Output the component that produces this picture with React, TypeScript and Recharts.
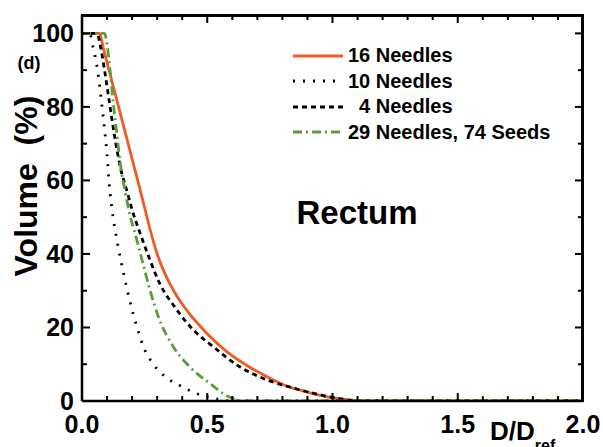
import { LineChart, Line, XAxis, YAxis, Legend } from "recharts";

// D/Dref positions on the x axis, volume (%) on the y axis
const needles16X = [0, 0.07, 0.085, 0.15, 0.23, 0.3, 0.33, 0.37, 0.42, 0.5, 0.58, 0.66, 0.75, 0.82, 0.9, 0.98, 1.06, 1.15, 1.5, 2.0];
const needles16Y = [100, 100, 96, 79, 58, 40, 34.8, 29.5, 24.5, 18.3, 13.3, 9.6, 6.2, 4, 2.4, 1.1, 0.4, 0, 0, 0];

const needles10X = [0, 0.03, 0.045, 0.06, 0.07, 0.08, 0.09, 0.1, 0.11, 0.12, 0.14, 0.165, 0.19, 0.22, 0.25, 0.285, 0.34, 0.4, 0.45, 0.52, 0.6, 2.0];
const needles10Y = [100, 100, 96, 91, 86, 80, 74, 67, 58, 52, 43.5, 35, 27.5, 20, 14, 10, 6.2, 3.9, 2.2, 0.8, 0, 0];

const needles4X = [0, 0.06, 0.075, 0.09, 0.11, 0.13, 0.155, 0.18, 0.2, 0.232, 0.265, 0.31, 0.37, 0.445, 0.525, 0.63, 0.74, 0.845, 1.0, 1.1, 2.0];
const needles4Y = [100, 100, 96, 90, 81, 72, 63, 57, 52, 45.6, 39.5, 32, 25.6, 19.3, 14.7, 9.3, 5.7, 3.5, 1, 0, 0];

const seedsX = [0, 0.09, 0.1, 0.112, 0.125, 0.14, 0.152, 0.172, 0.19, 0.22, 0.245, 0.27, 0.31, 0.365, 0.43, 0.51, 0.59, 0.65, 2.0];
const seedsY = [100, 100, 97, 90, 81, 72, 65, 57, 51, 43.5, 37, 30.5, 22, 14.7, 9.3, 4.8, 1, 0, 0];

const xTicks = [0, 0.1, 0.2, 0.3, 0.4, 0.5, 0.6, 0.7, 0.8, 0.9, 1.0, 1.1, 1.2, 1.3, 1.4, 1.5, 1.6, 1.7, 1.8, 1.9, 2.0];
const yTicks = [0, 10, 20, 30, 40, 50, 60, 70, 80, 90, 100];
const X_MAX = 2;
const Y_MAX = 105;

const toPoints = (xs: number[], ys: number[]) => xs.map((x, i) => ({ x, y: ys[i] }));

const series = [
  { name: "16 Needles", data: toPoints(needles16X, needles16Y), color: "#f15a24", dash: undefined },
  { name: "10 Needles", data: toPoints(needles10X, needles10Y), color: "#000000", dash: "2 8" },
  { name: "  4 Needles", data: toPoints(needles4X, needles4Y), color: "#000000", dash: "5 4" },
  { name: "29 Needles, 74 Seeds", data: toPoints(seedsX, seedsY), color: "#5a9e3a", dash: "9 4 2 4" },
];

const FONT = "'Liberation Sans', Arial, sans-serif";
const W = 603;
const H = 447;
const MARGIN = { top: 15, right: 20, left: 10, bottom: 16 };
const Y_AXIS_W = 72;
const X_AXIS_H = 30;
// plot box, from the margins and axis sizes above
const PLOT = {
  left: MARGIN.left + Y_AXIS_W,
  top: MARGIN.top,
  right: W - MARGIN.right,
  bottom: H - MARGIN.bottom - X_AXIS_H,
};

const isMajorX = (v: number) => Math.abs(v * 2 - Math.round(v * 2)) < 1e-6;
const isMajorY = (v: number) => Math.round(v) % 20 === 0;

function BottomTick(props: any) {
  const { x, y, payload } = props;
  const major = isMajorX(payload.value);
  return (
    <g>
      <line x1={x} x2={x} y1={y} y2={y - (major ? 8 : 5)} stroke="#000" strokeWidth={2} />
      {major && (
        <text x={x} y={y + 32} textAnchor="middle" fontFamily={FONT} fontWeight="bold" fontSize={25} fill="#000">
          {payload.value.toFixed(1)}
        </text>
      )}
    </g>
  );
}

function LeftTick(props: any) {
  const { x, y, payload } = props;
  const major = isMajorY(payload.value);
  return (
    <g>
      <line x1={x} x2={x + (major ? 8 : 5)} y1={y} y2={y} stroke="#000" strokeWidth={2} />
      {major && (
        <text x={x - 8} y={y} dy="0.36em" textAnchor="end" fontFamily={FONT} fontWeight="bold" fontSize={25} fill="#000">
          {payload.value}
        </text>
      )}
    </g>
  );
}

// top and right edges of the box, as a bordered box, plus inward ticks
function Frame() {
  const px = (v: number) => PLOT.left + (v / X_MAX) * (PLOT.right - PLOT.left);
  const py = (v: number) => PLOT.bottom - (v / Y_MAX) * (PLOT.bottom - PLOT.top);
  return (
    <>
      <div
        style={{
          position: "absolute",
          left: PLOT.left - 1,
          top: PLOT.top - 1,
          width: PLOT.right - PLOT.left + 2,
          height: PLOT.bottom - PLOT.top + 2,
          boxSizing: "border-box",
          borderTop: "3px solid #000",
          borderRight: "3px solid #000",
          pointerEvents: "none",
        }}
      />
      <svg width={W} height={H} style={{ position: "absolute", left: 0, top: 0, pointerEvents: "none" }}>
        {xTicks.map((v) => (
          <rect key={`t${v}`} x={px(v) - 1} y={PLOT.top} width={2} height={isMajorX(v) ? 8 : 5} fill="#000" />
        ))}
        {yTicks.map((v) => (
          <rect key={`r${v}`} x={PLOT.right - (isMajorY(v) ? 8 : 5)} y={py(v) - 1} width={isMajorY(v) ? 8 : 5} height={2} fill="#000" />
        ))}
      </svg>
    </>
  );
}

function LegendBox() {
  return (
    <div style={{ fontFamily: FONT, fontWeight: "bold", fontSize: 20, color: "#000" }}>
      {series.map((s) => (
        <div key={s.name} style={{ display: "flex", alignItems: "center", height: 25.5 }}>
          <svg width={52} height={10} style={{ marginRight: 4 }}>
            <line x1={1} x2={51} y1={5} y2={5} stroke={s.color} strokeWidth={2.8} strokeDasharray={s.dash} />
          </svg>
          <span style={{ whiteSpace: "pre" }}>{s.name}</span>
        </div>
      ))}
    </div>
  );
}

export default function App() {
  const axisLine = { stroke: "#000", strokeWidth: 2.5 };
  return (
    <div style={{ position: "absolute", left: 0, top: 0, width: W, height: H, background: "#fff", fontFamily: FONT }}>
      <LineChart width={W} height={H} margin={MARGIN}>
        <XAxis
          xAxisId="bottom"
          dataKey="x"
          type="number"
          domain={[0, X_MAX]}
          ticks={xTicks}
          interval={0}
          height={X_AXIS_H}
          axisLine={axisLine}
          tickLine={false}
          tickSize={0}
          tickMargin={0}
          tick={<BottomTick />}
          allowDataOverflow
        />
        <YAxis
          yAxisId="left"
          type="number"
          domain={[0, Y_MAX]}
          ticks={yTicks}
          interval={0}
          width={Y_AXIS_W}
          axisLine={axisLine}
          tickLine={false}
          tickSize={0}
          tickMargin={0}
          tick={<LeftTick />}
          allowDataOverflow
        />
        {series.map((s) => (
          <Line
            key={s.name}
            xAxisId="bottom"
            yAxisId="left"
            data={s.data}
            dataKey="y"
            type="monotone"
            stroke={s.color}
            strokeWidth={2.8}
            strokeDasharray={s.dash}
            dot={false}
            activeDot={false}
            isAnimationActive={false}
            legendType="none"
          />
        ))}
        <Legend
          layout="vertical"
          align="center"
          verticalAlign="middle"
          content={<LegendBox />}
          wrapperStyle={{ left: 292, top: 43, width: 300 }}
        />
      </LineChart>

      <Frame />

      <div
        style={{
          position: "absolute",
          left: 26,
          top: 186,
          transform: "translate(-50%, -50%) rotate(-90deg)",
          whiteSpace: "pre",
          fontSize: 32,
          fontWeight: "bold",
          lineHeight: 1,
        }}
      >
        Volume  (%)
      </div>
      <div style={{ position: "absolute", left: 29, top: 63, transform: "translate(-50%, -50%)", fontSize: 18, fontWeight: "bold", lineHeight: 1 }}>
        (d)
      </div>
      <div style={{ position: "absolute", left: 357, top: 212, transform: "translate(-50%, -50%)", fontSize: 33, fontWeight: "bold", lineHeight: 1, whiteSpace: "nowrap" }}>
        Rectum
      </div>
      <div style={{ position: "absolute", left: 490, top: 418, fontSize: 26, fontWeight: "bold", lineHeight: 1, whiteSpace: "nowrap" }}>
        D/D<span style={{ fontSize: 16, position: "relative", top: 11 }}>ref</span>
      </div>
    </div>
  );
}
